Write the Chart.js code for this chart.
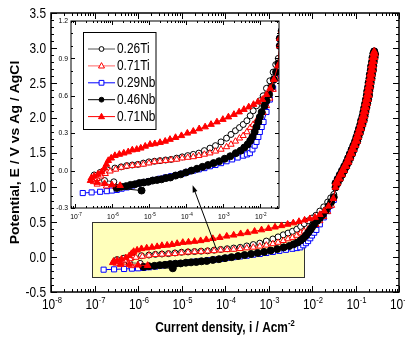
<!DOCTYPE html>
<html>
<head>
<meta charset="utf-8">
<script src="https://cdn.jsdelivr.net/npm/chart.js@4.4.1/dist/chart.umd.min.js"></script>
<style>
  html, body { margin: 0; padding: 0; background: #fff; }
  #wrap { position: relative; width: 405px; height: 337px; }
  #wrap canvas { position: absolute; left: 0; top: 0; }
</style>
</head>
<body>
<div id="wrap">
  <canvas id="mainChart" width="405" height="337"></canvas>
  <canvas id="insetChart" width="405" height="337"></canvas>
</div>
<script>
// log10 of current density (A/cm2) and potential (V vs Ag/AgCl), forward scan up to ~0.85 V
const logI_026Ti = [-5.95, -6.2, -6.42, -6.48, -6.32, -6.12, -5.92, -5.75, -5.6, -5.45, -5.3, -5.15, -5.0, -4.85, -4.7, -4.55, -4.4, -4.25, -4.1, -3.95, -3.8, -3.65, -3.5, -3.35, -3.2, -3.05, -2.9, -2.78, -2.66, -2.55, -2.45, -2.35, -2.26, -2.18, -2.09, -2.0, -1.91, -1.82, -1.73, -1.64, -1.57, -1.5];
const e_026Ti = [-0.09, -0.08, -0.065, -0.035, -0.015, 0.005, 0.02, 0.03, 0.04, 0.045, 0.05, 0.06, 0.07, 0.075, 0.08, 0.085, 0.09, 0.10, 0.11, 0.12, 0.13, 0.14, 0.16, 0.18, 0.20, 0.23, 0.26, 0.29, 0.32, 0.345, 0.37, 0.40, 0.44, 0.48, 0.52, 0.56, 0.60, 0.66, 0.72, 0.79, 0.85, 0.90];

const logI_071Ti = [-5.9, -6.15, -6.4, -6.5, -6.4, -6.3, -6.18, -6.05, -5.9, -5.75, -5.6, -5.45, -5.3, -5.15, -5.0, -4.85, -4.7, -4.55, -4.4, -4.25, -4.1, -3.95, -3.8, -3.65, -3.5, -3.35, -3.2, -3.05, -2.9, -2.78, -2.66, -2.55, -2.45, -2.35, -2.26, -2.18, -2.09, -2.0, -1.91, -1.82, -1.73, -1.64, -1.55];
const e_071Ti = [-0.13, -0.125, -0.11, -0.09, -0.065, -0.045, -0.025, -0.005, 0.01, 0.025, 0.035, 0.04, 0.045, 0.05, 0.06, 0.07, 0.075, 0.08, 0.085, 0.09, 0.10, 0.105, 0.11, 0.12, 0.13, 0.14, 0.155, 0.17, 0.19, 0.21, 0.235, 0.26, 0.28, 0.31, 0.345, 0.37, 0.40, 0.43, 0.465, 0.52, 0.58, 0.65, 0.74];

const logI_029Nb = [-6.79, -6.55, -6.32, -6.14, -6.0, -5.87, -5.74, -5.6, -5.45, -5.3, -5.15, -5.0, -4.85, -4.7, -4.55, -4.4, -4.25, -4.1, -3.95, -3.8, -3.65, -3.5, -3.35, -3.2, -3.05, -2.9, -2.75, -2.6, -2.45, -2.35, -2.27, -2.2, -2.14, -2.09, -2.04, -2.0, -1.95, -1.9, -1.82, -1.73, -1.64, -1.57, -1.5];
const e_029Nb = [-0.18, -0.175, -0.17, -0.165, -0.16, -0.155, -0.145, -0.135, -0.12, -0.105, -0.095, -0.085, -0.075, -0.065, -0.055, -0.045, -0.035, -0.025, -0.01, 0.0, 0.01, 0.02, 0.035, 0.045, 0.06, 0.075, 0.09, 0.105, 0.12, 0.13, 0.14, 0.17, 0.2, 0.23, 0.27, 0.31, 0.35, 0.39, 0.47, 0.57, 0.66, 0.74, 0.82];

const logI_046Nb = [-5.2, -5.87, -5.75, -5.62, -5.5, -5.38, -5.26, -5.14, -5.02, -4.9, -4.78, -4.66, -4.54, -4.42, -4.28, -4.14, -4.0, -3.85, -3.7, -3.55, -3.4, -3.25, -3.1, -2.95, -2.8, -2.65, -2.52, -2.42, -2.33, -2.26, -2.2, -2.14, -2.09, -2.04, -2.0, -1.95, -1.88, -1.82, -1.75, -1.68, -1.62, -1.56, -1.5];
const e_046Nb = [-0.16, -0.14, -0.13, -0.125, -0.115, -0.11, -0.1, -0.095, -0.09, -0.08, -0.075, -0.07, -0.06, -0.055, -0.04, -0.03, -0.015, 0.0, 0.015, 0.03, 0.045, 0.06, 0.075, 0.095, 0.115, 0.14, 0.16, 0.185, 0.21, 0.24, 0.27, 0.31, 0.35, 0.39, 0.43, 0.47, 0.52, 0.56, 0.61, 0.67, 0.73, 0.79, 0.86];

const logI_071Nb = [-5.78, -6.0, -6.2, -6.4, -6.58, -6.56, -6.48, -6.38, -6.28, -6.2, -6.15, -6.1, -6.02, -5.92, -5.8, -5.68, -5.56, -5.45, -5.33, -5.22, -5.1, -4.97, -4.84, -4.7, -4.56, -4.43, -4.28, -4.12, -3.96, -3.8, -3.64, -3.48, -3.32, -3.16, -3.0, -2.85, -2.7, -2.56, -2.43, -2.3, -2.17, -2.05, -1.93, -1.82, -1.72, -1.62, -1.51];
const e_071Nb = [-0.12, -0.115, -0.105, -0.095, -0.08, -0.06, -0.045, -0.03, -0.01, 0.02, 0.05, 0.08, 0.1, 0.12, 0.13, 0.14, 0.15, 0.165, 0.17, 0.18, 0.195, 0.21, 0.215, 0.225, 0.235, 0.25, 0.265, 0.28, 0.3, 0.315, 0.335, 0.35, 0.37, 0.39, 0.41, 0.43, 0.45, 0.47, 0.49, 0.51, 0.53, 0.55, 0.57, 0.61, 0.66, 0.73, 0.84];

// above ~1 V all five curves lie on top of each other: forward rise, then the way back
const logI_rise = [-1.46, -1.41, -1.36, -1.31, -1.26, -1.21, -1.16, -1.12, -1.08, -1.04, -1.0, -0.96, -0.93, -0.90, -0.87, -0.84, -0.81, -0.79, -0.77, -0.75, -0.73, -0.71, -0.69, -0.68, -0.66, -0.65, -0.63, -0.62, -0.60, -0.59, -0.58, -0.56, -0.55];
const e_rise = [1.0, 1.06, 1.12, 1.18, 1.24, 1.30, 1.36, 1.42, 1.48, 1.54, 1.6, 1.66, 1.72, 1.78, 1.84, 1.90, 1.96, 2.02, 2.08, 2.14, 2.20, 2.26, 2.32, 2.38, 2.44, 2.50, 2.56, 2.62, 2.68, 2.74, 2.80, 2.86, 2.91];
const logI_back = [-0.57, -0.59, -0.61, -0.62, -0.64, -0.65, -0.67, -0.68, -0.70, -0.71, -0.73, -0.74, -0.76, -0.78, -0.80, -0.82, -0.84, -0.87, -0.89, -0.92, -0.95, -0.98, -1.01, -1.05, -1.09, -1.13, -1.17, -1.21, -1.26, -1.31, -1.36, -1.41, -1.46];
const e_back = [2.95, 2.92, 2.86, 2.80, 2.74, 2.68, 2.62, 2.56, 2.50, 2.44, 2.38, 2.32, 2.26, 2.20, 2.14, 2.08, 2.02, 1.96, 1.90, 1.84, 1.78, 1.72, 1.66, 1.60, 1.54, 1.48, 1.42, 1.36, 1.30, 1.24, 1.18, 1.12, 1.06];

// tick labels
const mainYTicks = [-0.5, 0.0, 0.5, 1.0, 1.5, 2.0, 2.5, 3.0, 3.5];
const mainXDecades = [-8, -7, -6, -5, -4, -3, -2, -1, 0];
const insetYTicks = [-0.3, 0.0, 0.3, 0.6, 0.9, 1.2];
const insetXDecades = [-7, -6, -5, -4, -3, -2];

const FONT = 'Arial, "Liberation Sans", sans-serif';
const SQUEEZE = 0.85;

const series = [
    { label: '0.26Ti', logI: logI_026Ti, e: e_026Ti, line: '#555555', edge: '#000000', fill: '#ffffff', shape: 'circle', r: 3 },
    { label: '0.71Ti', logI: logI_071Ti, e: e_071Ti, line: '#ff6666', edge: '#ff0000', fill: '#ffffff', shape: 'triangle', r: 3.6 },
    { label: '0.29Nb', logI: logI_029Nb, e: e_029Nb, line: '#0000ff', edge: '#0000ff', fill: '#ffffff', shape: 'rect', r: 3.6 },
    { label: '0.46Nb', logI: logI_046Nb, e: e_046Nb, line: '#000000', edge: '#000000', fill: '#000000', shape: 'circle', r: 3.5 },
    { label: '0.71Nb', logI: logI_071Nb, e: e_071Nb, line: '#ff0000', edge: '#ff0000', fill: '#ff0000', shape: 'triangle', r: 3.8 }
];
// drawing order: first dataset ends up on top
const drawOrder = ['0.71Nb', '0.46Nb', '0.71Ti', '0.26Ti', '0.29Nb'];

function buildDatasets() {
    return drawOrder.map(name => {
        const s = series.find(t => t.label === name);
        const logs = s.logI.concat(logI_rise, logI_back);
        const es = s.e.concat(e_rise, e_back);
        return {
            label: s.label,
            data: logs.map((l, i) => ({ x: Math.pow(10, l), y: es[i] })),
            showLine: true,
            borderColor: s.line,
            borderWidth: 1,
            pointStyle: s.shape,
            pointRadius: s.r,
            pointBackgroundColor: s.fill,
            pointBorderColor: s.edge,
            pointBorderWidth: 1,
            tension: 0
        };
    });
}

function textWidth(ctx, text, font) {
    ctx.font = font;
    return ctx.measureText(text).width * SQUEEZE;
}

function putText(ctx, text, x, y, font, align, baseline) {
    ctx.save();
    ctx.font = font;
    ctx.textAlign = align || 'left';
    ctx.textBaseline = baseline || 'alphabetic';
    ctx.translate(x, y);
    ctx.scale(SQUEEZE, 1);
    ctx.fillText(text, 0, 0);
    ctx.restore();
}

function putPower(ctx, exp, cx, y, size, expSize) {
    const f1 = size + 'px ' + FONT;
    const f2 = expSize + 'px ' + FONT;
    const w1 = textWidth(ctx, '10', f1);
    const w2 = textWidth(ctx, exp, f2);
    const left = cx - (w1 + w2) / 2 + 1;
    putText(ctx, '10', left, y, f1);
    putText(ctx, exp, left + w1, y - size * 0.42, f2);
}

function drawFrameAndTicks(ctx, chart, o) {
    const a = chart.chartArea;
    const xs = chart.scales.x, ys = chart.scales.y;
    ctx.save();
    ctx.strokeStyle = '#000';
    ctx.lineWidth = o.frameWidth;
    ctx.strokeRect(a.left, a.top, a.right - a.left, a.bottom - a.top);
    ctx.lineWidth = 1;
    ctx.beginPath();
    const tickX = (v, len) => {
        const p = Math.round(xs.getPixelForValue(v)) + 0.5;
        ctx.moveTo(p, a.bottom); ctx.lineTo(p, a.bottom - len);
        ctx.moveTo(p, a.top); ctx.lineTo(p, a.top + len);
    };
    const tickY = (v, len) => {
        const p = Math.round(ys.getPixelForValue(v)) + 0.5;
        ctx.moveTo(a.left, p); ctx.lineTo(a.left + len, p);
        ctx.moveTo(a.right, p); ctx.lineTo(a.right - len, p);
    };
    const lo = Math.floor(Math.log10(xs.min)), hi = Math.ceil(Math.log10(xs.max));
    for (let d = lo; d <= hi; d++) {
        const dec = Math.pow(10, d);
        if (dec >= xs.min * 0.999 && dec <= xs.max * 1.001) tickX(dec, o.major);
        for (let m = 2; m <= 9; m++) {
            const v = m * dec;
            if (v > xs.min && v < xs.max) tickX(v, o.minor);
        }
    }
    for (let k = Math.round(ys.min * 10); k <= Math.round(ys.max * 10); k++) {
        tickY(k / 10, k % o.majorEvery === 0 ? o.major : o.minor);
    }
    ctx.stroke();
    ctx.restore();
}

// zoomed region marked in the main plot, and the arrow pointing to the inset
const zoomBoxX = [8.7e-8, 6.6e-3];
const zoomBoxY = [-0.29, 0.51];
const arrowTail = { x: 6.2e-5, y: 0.13 };
const arrowHead = { x: 1.8e-5, y: 1.03 };

const mainDecor = {
    id: 'mainDecor',
    beforeDatasetsDraw(chart) {
        const { ctx, scales: { x, y } } = chart;
        const x0 = Math.round(x.getPixelForValue(zoomBoxX[0])) + 0.5;
        const x1 = Math.round(x.getPixelForValue(zoomBoxX[1])) + 0.5;
        const y0 = Math.round(y.getPixelForValue(zoomBoxY[1])) + 0.5;
        const y1 = Math.round(y.getPixelForValue(zoomBoxY[0])) + 0.5;
        ctx.save();
        ctx.fillStyle = '#ffffbb';
        ctx.fillRect(x0, y0, x1 - x0, y1 - y0);
        ctx.strokeStyle = '#333';
        ctx.lineWidth = 1;
        ctx.strokeRect(x0, y0, x1 - x0, y1 - y0);
        ctx.restore();
    },
    afterDraw(chart) {
        const { ctx, scales: { x, y } } = chart;
        const a = chart.chartArea;
        drawFrameAndTicks(ctx, chart, { frameWidth: 1.5, major: 6, minor: 3, majorEvery: 5 });
        ctx.save();
        ctx.fillStyle = '#000';
        mainYTicks.forEach(v => {
            putText(ctx, v.toFixed(1), a.left - 5, y.getPixelForValue(v) + 1, '14px ' + FONT, 'right', 'middle');
        });
        mainXDecades.forEach(d => {
            putPower(ctx, '-' + Math.abs(d), x.getPixelForValue(Math.pow(10, d)), a.bottom + 17, 14, 9);
        });
        // x title with superscript
        const f1 = 'bold 14px ' + FONT, f2 = 'bold 9px ' + FONT;
        const t1 = 'Current density, i / Acm', t2 = '-2';
        const w = textWidth(ctx, t1, f1) + textWidth(ctx, t2, f2);
        const cx = (a.left + a.right) / 2 - w / 2;
        putText(ctx, t1, cx, 332, f1);
        putText(ctx, t2, cx + textWidth(ctx, t1, f1), 326, f2);
        // y title, rotated
        ctx.translate(19, (a.top + a.bottom) / 2);
        ctx.rotate(-Math.PI / 2);
        ctx.scale(1, SQUEEZE);
        ctx.font = 'bold 14px ' + FONT;
        ctx.textAlign = 'center';
        ctx.fillText('Potential, E / V vs Ag / AgCl', 0, 0);
        ctx.restore();
    }
};

function drawMarker(ctx, shape, cx, cy, r, edge, fill) {
    ctx.beginPath();
    if (shape === 'circle') {
        ctx.arc(cx, cy, r, 0, Math.PI * 2);
    } else if (shape === 'triangle') {
        ctx.moveTo(cx, cy - r * 1.1);
        ctx.lineTo(cx + r, cy + r * 0.7);
        ctx.lineTo(cx - r, cy + r * 0.7);
        ctx.closePath();
    } else {
        ctx.rect(cx - r, cy - r, 2 * r, 2 * r);
    }
    ctx.fillStyle = fill;
    ctx.fill();
    ctx.strokeStyle = edge;
    ctx.lineWidth = 1;
    ctx.stroke();
}

const insetDecor = {
    id: 'insetDecor',
    beforeDatasetsDraw(chart) {
        const a = chart.chartArea;
        chart.ctx.save();
        chart.ctx.fillStyle = '#fff';
        chart.ctx.fillRect(a.left, a.top, a.right - a.left, a.bottom - a.top);
        chart.ctx.restore();
    },
    afterDraw(chart) {
        const { ctx, scales: { x, y } } = chart;
        const a = chart.chartArea;
        drawFrameAndTicks(ctx, chart, { frameWidth: 1, major: 4, minor: 2, majorEvery: 3 });
        ctx.save();
        ctx.fillStyle = '#000';
        insetYTicks.forEach(v => {
            putText(ctx, v.toFixed(1), a.left - 3, y.getPixelForValue(v), '8px ' + FONT, 'right', 'middle');
        });
        insetXDecades.forEach(d => {
            putPower(ctx, '-' + Math.abs(d), x.getPixelForValue(Math.pow(10, d)), a.bottom + 11, 8, 5.5);
        });

        // legend
        ctx.fillStyle = '#fff';
        ctx.fillRect(83.5, 32.5, 72.5, 97);
        ctx.strokeStyle = '#000';
        ctx.lineWidth = 1;
        ctx.strokeRect(83.5, 32.5, 72.5, 97);
        series.forEach((s, i) => {
            const ry = 48.5 + i * 16.9;
            ctx.beginPath();
            ctx.strokeStyle = s.line;
            ctx.moveTo(88, ry + 0.5);
            ctx.lineTo(115, ry + 0.5);
            ctx.stroke();
            drawMarker(ctx, s.shape, 101.5, ry + 0.5, s.shape === 'triangle' ? 3 : 2.4, s.edge, s.fill);
            ctx.fillStyle = '#000';
            putText(ctx, s.label, 117, ry + 1, '14px ' + FONT, 'left', 'middle');
        });

        // arrow from the marked region up into the inset
        const ms = mainChart.scales;
        const tx = ms.x.getPixelForValue(arrowTail.x), ty = ms.y.getPixelForValue(arrowTail.y);
        const hx = ms.x.getPixelForValue(arrowHead.x), hy = ms.y.getPixelForValue(arrowHead.y);
        const ang = Math.atan2(hy - ty, hx - tx);
        ctx.strokeStyle = '#000';
        ctx.fillStyle = '#000';
        ctx.lineWidth = 1;
        ctx.beginPath();
        ctx.moveTo(tx, ty);
        ctx.lineTo(hx - 5 * Math.cos(ang), hy - 5 * Math.sin(ang));
        ctx.stroke();
        ctx.beginPath();
        ctx.moveTo(hx, hy);
        ctx.lineTo(hx - 7 * Math.cos(ang) + 2.5 * Math.sin(ang), hy - 7 * Math.sin(ang) - 2.5 * Math.cos(ang));
        ctx.lineTo(hx - 7 * Math.cos(ang) - 2.5 * Math.sin(ang), hy - 7 * Math.sin(ang) + 2.5 * Math.cos(ang));
        ctx.closePath();
        ctx.fill();
        ctx.restore();
    }
};

function chartConfig(padding, xRange, yRange, decor) {
    return {
        type: 'scatter',
        data: { datasets: buildDatasets() },
        options: {
            responsive: false,
            animation: false,
            devicePixelRatio: 1,
            layout: { padding: padding },
            scales: {
                x: { type: 'logarithmic', min: xRange[0], max: xRange[1], display: false },
                y: { type: 'linear', min: yRange[0], max: yRange[1], display: false }
            },
            plugins: {
                legend: { display: false },
                tooltip: { enabled: false }
            }
        },
        plugins: [decor]
    };
}

const mainChart = new Chart(document.getElementById('mainChart'),
    chartConfig({ left: 51, right: 6, top: 13, bottom: 45 }, [1e-8, 1], [-0.5, 3.5], mainDecor));

const insetChart = new Chart(document.getElementById('insetChart'),
    chartConfig({ left: 71, right: 126, top: 21, bottom: 129 }, [7.8e-8, 3.3e-2], [-0.3, 1.2], insetDecor));
</script>
</body>
</html>
